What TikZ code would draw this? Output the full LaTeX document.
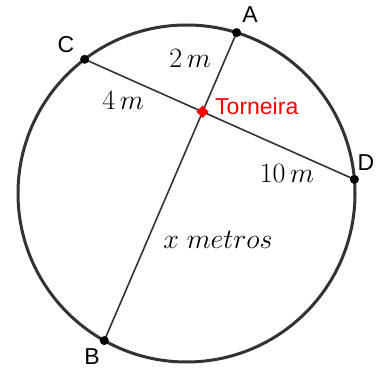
\documentclass[tikz,border=0pt]{standalone}
\usepackage{fontspec}
\setsansfont{Liberation Sans}
\usetikzlibrary{shapes.geometric}

\colorlet{linecol}{black!80}
\tikzset{
    ponto/.style={circle, fill=black, inner sep=0pt, minimum size=9pt},
    rotulo/.style={font=\sffamily\fontsize{23}{23}\selectfont, inner sep=0pt},
    medida/.style={font=\fontsize{24.88}{25}\selectfont, scale=1.125, inner sep=0pt},
}

\begin{document}
\begin{tikzpicture}[x=1pt, y=1pt]
    \useasboundingbox (0,0) rectangle (383,373);

    \coordinate (O) at (186.5,179.5);
    \coordinate (A) at (236.6,340.4);
    \coordinate (B) at (104.3,32.4);
    \coordinate (C) at (84.6,313.7);
    \coordinate (D) at (354.4,193.6);

    \draw[linecol, line width=3pt] (O) circle[radius=168.5];
    \draw[linecol, line width=1.6pt] (A) -- (B);
    \draw[linecol, line width=1.6pt] (C) -- (D);
    \coordinate (T) at (intersection of A--B and C--D);

    \foreach \p in {A,B,C,D}
        \node[ponto] (dot\p) at (\p) {};
    \node[diamond, fill=red, inner sep=0pt, minimum size=12.5pt] (torneira) at (T) {};

    \node[rotulo] (labA) at (250,358) {A};
    \node[rotulo] (labB) at (92,16) {B};
    \node[rotulo] (labC) at (66,328) {C};
    \node[rotulo] (labD) at (366,210) {D};
    \node[rotulo, text=red, anchor=west] (labT) at (215,267) {Torneira};

    \node[medida] (med2) at (190,315) {$2\,m$};
    \node[medida] (med4) at (123,273) {$4\,m$};
    \node[medida] (med10) at (287,200) {$10\,m$};
    \node[medida] (medx) at (218,133) {$x\;metros$};
\end{tikzpicture}
\end{document}
